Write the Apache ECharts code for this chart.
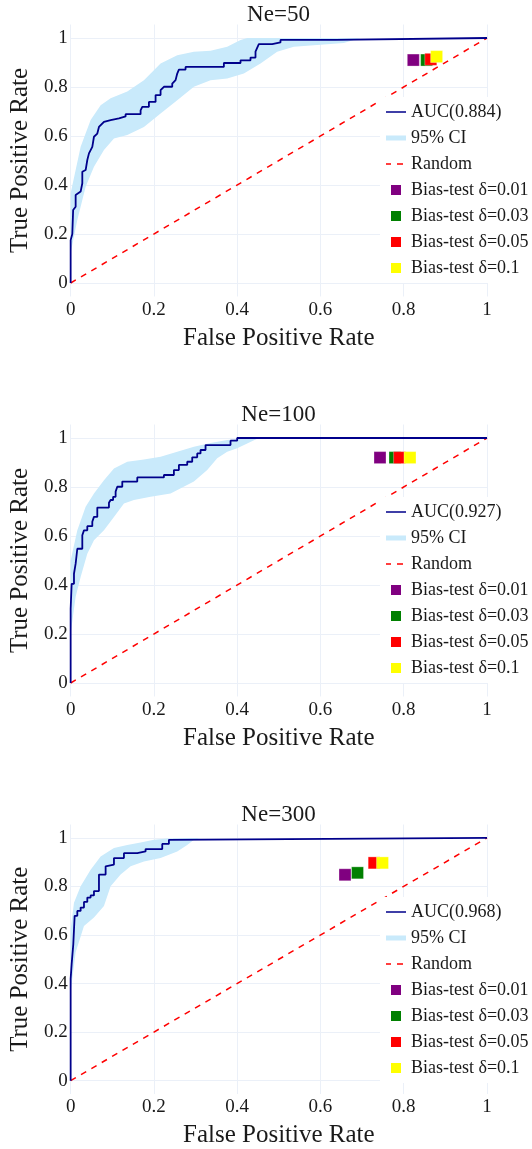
<!DOCTYPE html>
<html><head><meta charset="utf-8">
<script src="https://cdn.jsdelivr.net/npm/echarts@6/dist/echarts.min.js"></script>
<style>html,body{margin:0;padding:0;background:#fff}#c{width:532px;height:1149px}</style>
</head><body><div id="c"></div>
<script>
// ---------- data ----------
const TITLES = ['Ne=50', 'Ne=100', 'Ne=300'];
const AUC_LABELS = ['AUC(0.884)', 'AUC(0.927)', 'AUC(0.968)'];
const CI_LABEL = '95% CI';
const RANDOM_LABEL = 'Random';
const BIAS_LABELS = ['Bias-test δ=0.01', 'Bias-test δ=0.03', 'Bias-test δ=0.05', 'Bias-test δ=0.1'];
const X_TICKS = [0, 0.2, 0.4, 0.6, 0.8, 1];
const Y_TICKS = [0, 0.2, 0.4, 0.6, 0.8, 1];
const randomLine = [[0, 0], [1, 1]];

const roc50 = [[0,0],[0,0.175],[0.004,0.2],[0.006,0.2],[0.006,0.298],[0.012,0.311],[0.012,0.359],[0.024,0.373],[0.028,0.407],[0.028,0.454],[0.036,0.461],[0.04,0.502],[0.044,0.529],[0.052,0.556],[0.056,0.597],[0.064,0.61],[0.068,0.637],[0.08,0.658],[0.084,0.665],[0.096,0.665],[0.096,0.672],[0.116,0.672],[0.116,0.68],[0.132,0.68],[0.132,0.689],[0.168,0.689],[0.168,0.705],[0.172,0.719],[0.188,0.719],[0.188,0.739],[0.204,0.739],[0.204,0.767],[0.216,0.767],[0.216,0.787],[0.224,0.801],[0.244,0.801],[0.244,0.814],[0.252,0.828],[0.256,0.855],[0.26,0.871],[0.276,0.871],[0.276,0.882],[0.368,0.882],[0.368,0.898],[0.408,0.898],[0.408,0.909],[0.432,0.909],[0.432,0.92],[0.444,0.92],[0.444,0.944],[0.449,0.964],[0.452,0.975],[0.484,0.975],[0.484,0.982],[0.504,0.982],[0.504,0.992],[0.636,0.992],[0.636,1],[1,1]];
const ciUpper50 = [[0,0.366],[0.024,0.556],[0.048,0.665],[0.072,0.726],[0.096,0.754],[0.136,0.782],[0.176,0.828],[0.216,0.896],[0.256,0.93],[0.296,0.944],[0.336,0.948],[0.376,0.964],[0.408,0.992],[0.424,1],[1,1]];
const ciLower50 = [[0,0.122],[0.016,0.257],[0.036,0.393],[0.056,0.475],[0.08,0.543],[0.104,0.59],[0.136,0.604],[0.176,0.637],[0.216,0.692],[0.256,0.746],[0.296,0.801],[0.336,0.828],[0.376,0.835],[0.416,0.855],[0.456,0.896],[0.496,0.944],[0.536,0.964],[0.616,0.975],[0.656,0.98],[0.696,1],[1,1]];
const bias50 = [[0.823,0.91],[0.855,0.91],[0.865,0.913],[0.879,0.924]];

const roc100 = [[0,0],[0,0.303],[0.0024,0.303],[0.0024,0.405],[0.008,0.405],[0.008,0.446],[0.012,0.446],[0.012,0.487],[0.016,0.487],[0.016,0.548],[0.028,0.548],[0.028,0.603],[0.032,0.603],[0.032,0.623],[0.04,0.623],[0.04,0.64],[0.052,0.64],[0.052,0.658],[0.056,0.658],[0.056,0.678],[0.064,0.678],[0.064,0.716],[0.092,0.716],[0.092,0.736],[0.096,0.736],[0.096,0.747],[0.102,0.747],[0.102,0.76],[0.108,0.76],[0.108,0.781],[0.112,0.781],[0.112,0.801],[0.124,0.801],[0.124,0.822],[0.16,0.822],[0.16,0.839],[0.224,0.839],[0.224,0.849],[0.248,0.849],[0.248,0.869],[0.26,0.869],[0.26,0.89],[0.28,0.89],[0.28,0.903],[0.292,0.903],[0.292,0.921],[0.304,0.921],[0.304,0.937],[0.312,0.937],[0.312,0.951],[0.324,0.951],[0.324,0.971],[0.384,0.971],[0.384,0.989],[0.4,0.989],[0.4,1],[1,1]];
const ciUpper100 = [[0,0.5],[0.016,0.623],[0.036,0.719],[0.056,0.773],[0.08,0.828],[0.104,0.876],[0.136,0.903],[0.176,0.912],[0.216,0.923],[0.256,0.944],[0.296,0.964],[0.336,0.98],[0.376,0.992],[0.416,0.997],[0.448,1],[1,1]];
const ciLower100 = [[0,0.202],[0.012,0.352],[0.024,0.433],[0.04,0.528],[0.056,0.583],[0.08,0.623],[0.104,0.678],[0.128,0.733],[0.152,0.747],[0.192,0.76],[0.24,0.773],[0.296,0.822],[0.328,0.869],[0.352,0.917],[0.376,0.944],[0.4,0.958],[0.424,0.978],[0.448,0.997],[0.456,1],[1,1]];
const bias100 = [[0.743,0.92],[0.779,0.92],[0.79,0.92],[0.815,0.92]];

const roc300 = [[0,0],[0,0.42],[0.0024,0.42],[0.0024,0.48],[0.0064,0.48],[0.0064,0.563],[0.0096,0.563],[0.0096,0.679],[0.016,0.679],[0.016,0.699],[0.024,0.699],[0.024,0.713],[0.032,0.713],[0.032,0.736],[0.04,0.736],[0.04,0.754],[0.048,0.754],[0.048,0.763],[0.056,0.763],[0.056,0.781],[0.068,0.781],[0.068,0.849],[0.084,0.849],[0.084,0.883],[0.088,0.883],[0.088,0.89],[0.104,0.89],[0.104,0.917],[0.128,0.917],[0.128,0.937],[0.16,0.937],[0.16,0.944],[0.18,0.944],[0.18,0.954],[0.22,0.954],[0.22,0.975],[0.236,0.975],[0.236,0.992],[0.24,0.992],[0.24,1],[1,1]];
const ciUpper300 = [[0,0.623],[0.008,0.733],[0.024,0.801],[0.048,0.869],[0.072,0.923],[0.104,0.958],[0.136,0.971],[0.168,0.981],[0.2,0.992],[0.232,0.997],[0.28,1],[1,1]];
const ciLower300 = [[0,0.366],[0.012,0.529],[0.032,0.637],[0.056,0.672],[0.08,0.719],[0.096,0.801],[0.12,0.849],[0.144,0.883],[0.176,0.903],[0.216,0.917],[0.256,0.944],[0.28,0.971],[0.296,0.992],[0.312,1],[1,1]];
const bias300 = [[0.659,0.848],[0.689,0.856],[0.729,0.897],[0.749,0.897]];

// ---------- styling ----------
const FONT = 'Liberation Serif';
const TXT = '#1a1a1a';
const GRID_C = '#ebf0f8';
const ROC_C = '#00008b';
const CI_C = '#c9eafb';
const RAND_C = '#ff0000';
const BIAS_C = ['#800080', '#008000', '#ff0000', '#ffff00'];

const panels = [
  {roc: roc50, up: ciUpper50, lo: ciLower50, bias: bias50},
  {roc: roc100, up: ciUpper100, lo: ciLower100, bias: bias100},
  {roc: roc300, up: ciUpper300, lo: ciLower300, bias: bias300}
];

const PLOT_LEFT = 70, PLOT_RIGHT = 45;
const Y_MIN = -0.055, Y_MAX = 1.055;
const PX_PER_UNIT = 245;
const panelTop = i => 38 + 400 * i; // pixel of y = 1

const corner = 'M0,0h0.01v0.01h-0.01z M20,10h-0.01v-0.01h0.01z ';
const ICON_LINE = 'path://' + corner + 'M0,4.2h20v1.6h-20z';
const ICON_BAND = 'path://' + corner + 'M0,2.5h20v5h-20z';
const ICON_DASH = 'path://' + corner + 'M0,4.3h5v1.4h-5z M11,4.3h6v1.4h-6z';
const ICON_SQ = 'path://' + corner + 'M5,0h10v10h-10z';

const grids = [], xAxes = [], yAxes = [], series = [], legends = [], titles = [];

panels.forEach((p, i) => {
  const top1 = panelTop(i);
  const gTop = top1 - (Y_MAX - 1) * PX_PER_UNIT;
  const gH = (Y_MAX - Y_MIN) * PX_PER_UNIT;
  grids.push({left: PLOT_LEFT, right: PLOT_RIGHT, top: gTop, height: gH, containLabel: false});
  xAxes.push({
    type: 'value', gridIndex: i, min: 0, max: 1, interval: 0.2,
    name: 'False Positive Rate', nameLocation: 'middle', nameGap: 29,
    nameTextStyle: {fontFamily: FONT, fontSize: 25, color: TXT},
    axisLine: {show: false, onZero: false}, axisTick: {show: false},
    axisLabel: {fontFamily: FONT, fontSize: 19, color: TXT, margin: 4},
    splitLine: {show: true, lineStyle: {color: GRID_C, width: 1}}
  });
  yAxes.push({
    type: 'value', gridIndex: i, min: Y_MIN, max: Y_MAX,
    name: 'True Positive Rate', nameLocation: 'middle', nameGap: 35,
    nameTextStyle: {fontFamily: FONT, fontSize: 25, color: TXT},
    axisLine: {show: false}, axisTick: {show: false, customValues: Y_TICKS},
    axisLabel: {customValues: Y_TICKS, fontFamily: FONT, fontSize: 19, color: TXT, margin: 3},
    splitLine: {show: true, lineStyle: {color: GRID_C, width: 1}}
  });
  series.push({
    type: 'custom', name: CI_LABEL, xAxisIndex: i, yAxisIndex: i, silent: true, z: 1,
    itemStyle: {color: CI_C}, data: [[0, 0]], clip: true,
    renderItem: (params, api) => {
      const pts = p.up.map(d => api.coord(d)).concat(p.lo.slice().reverse().map(d => api.coord(d)));
      return {type: 'polygon', shape: {points: pts}, style: {fill: CI_C}};
    }
  });
  series.push({
    type: 'line', name: AUC_LABELS[i], xAxisIndex: i, yAxisIndex: i, z: 3, clip: true,
    data: p.roc, showSymbol: false, symbol: 'none', color: ROC_C,
    lineStyle: {color: ROC_C, width: 1.8}
  });
  series.push({
    type: 'line', name: RANDOM_LABEL, xAxisIndex: i, yAxisIndex: i, z: 2,
    data: randomLine, showSymbol: false, symbol: 'none', color: RAND_C,
    lineStyle: {color: RAND_C, width: 1.5, type: [6, 6]}
  });
  BIAS_LABELS.forEach((name, k) => {
    series.push({
      type: 'scatter', name: name, xAxisIndex: i, yAxisIndex: i, z: 4 + k,
      data: [p.bias[k]], symbol: 'rect', symbolSize: 12, color: BIAS_C[k],
      itemStyle: {color: BIAS_C[k], opacity: 1, borderColor: 'rgba(255,255,255,0.3)', borderWidth: 1}
    });
  });
  const legendData = [
    {name: AUC_LABELS[i], icon: ICON_LINE, itemStyle: {color: ROC_C, borderWidth: 0, opacity: 1}},
    {name: CI_LABEL, icon: ICON_BAND, itemStyle: {color: CI_C, borderWidth: 0, opacity: 1}},
    {name: RANDOM_LABEL, icon: ICON_DASH, itemStyle: {color: RAND_C, borderWidth: 0, opacity: 1}}
  ].concat(BIAS_LABELS.map((n, k) => ({name: n, icon: ICON_SQ, itemStyle: {color: BIAS_C[k], borderWidth: 0, opacity: 1}})));
  legends.push({
    orient: 'vertical', left: 380, top: top1 + 59, z: 10,
    itemWidth: 20, itemHeight: 10, itemGap: 8, itemSymbolTextGap: 4, padding: [6, 4, 6, 6],
    backgroundColor: '#ffffff', selectedMode: false,
    textStyle: {fontFamily: FONT, fontSize: 18, color: TXT, lineHeight: 18},
    data: legendData
  });
  titles.push({
    text: TITLES[i], left: (PLOT_LEFT + 532 - PLOT_RIGHT) / 2, textAlign: 'center',
    top: top1 - 35, padding: 0,
    textStyle: {fontFamily: FONT, fontSize: 23, fontWeight: 'normal', color: TXT}
  });
});

const chart = echarts.init(document.getElementById('c'), null, {renderer: 'canvas'});
chart.setOption({
  animation: false,
  backgroundColor: '#ffffff',
  title: titles,
  grid: grids, xAxis: xAxes, yAxis: yAxes,
  legend: legends,
  series: series
});
</script>
</body></html>
